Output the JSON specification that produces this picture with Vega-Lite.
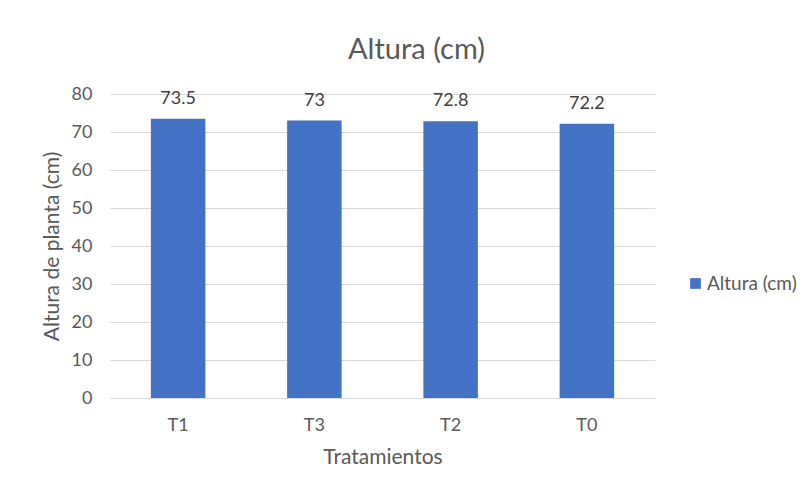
{
  "$schema": "https://vega.github.io/schema/vega-lite/v6.json",
  "width": 545,
  "height": 304,
  "autosize": {"type": "none"},
  "padding": {"left": 110, "top": 94, "right": 156, "bottom": 92},
  "background": "white",
  "data": {"values": [
    {"trat": "T1", "altura": 73.5, "serie": "Altura (cm)", "label": "73.5"},
    {"trat": "T3", "altura": 73, "serie": "Altura (cm)", "label": "73"},
    {"trat": "T2", "altura": 72.8, "serie": "Altura (cm)", "label": "72.8"},
    {"trat": "T0", "altura": 72.2, "serie": "Altura (cm)", "label": "72.2"}
  ]},
  "title": {
    "text": "Altura (cm)",
    "anchor": "middle",
    "fontSize": 29,
    "fontWeight": "normal",
    "color": "#595959",
    "font": "Lato",
    "offset": 20,
    "dx": 34
  },
  "encoding": {
    "x": {
      "field": "trat",
      "type": "nominal",
      "sort": null,
      "scale": {"paddingInner": 0.6, "paddingOuter": 0.3},
      "axis": {
        "title": "Tratamientos",
        "labelAngle": 0,
        "ticks": false,
        "domainColor": "#D9D9D9",
        "labelPadding": 18,
        "titlePadding": 12
      }
    },
    "y": {
      "field": "altura",
      "type": "quantitative",
      "scale": {"domain": [0, 80]},
      "axis": {
        "title": "Altura de planta (cm)",
        "values": [0, 10, 20, 30, 40, 50, 60, 70, 80],
        "ticks": false,
        "domain": false,
        "gridColor": "#D9D9D9",
        "labelPadding": 18,
        "titlePadding": 9
      }
    }
  },
  "layer": [
    {
      "mark": {"type": "bar", "color": "#4472C4"},
      "encoding": {
        "color": {
          "field": "serie",
          "type": "nominal",
          "scale": {"range": ["#4472C4"]},
          "legend": {
            "title": null,
            "orient": "none",
            "legendX": 576,
            "legendY": 180,
            "symbolType": "square",
            "symbolSize": 115,
            "symbolStrokeWidth": 0,
            "labelOffset": 2
          }
        }
      }
    },
    {
      "mark": {"type": "text", "baseline": "bottom", "dy": -11, "fontSize": 18, "color": "#404040", "font": "Lato"},
      "encoding": {"text": {"field": "label"}}
    }
  ],
  "config": {
    "font": "Lato",
    "view": {"stroke": null},
    "axis": {
      "labelFont": "Lato",
      "titleFont": "Lato",
      "labelFontSize": 18,
      "titleFontSize": 21,
      "labelColor": "#595959",
      "titleColor": "#595959",
      "titleFontWeight": "normal"
    },
    "legend": {
      "labelFont": "Lato",
      "labelFontSize": 19,
      "labelColor": "#595959"
    }
  }
}
